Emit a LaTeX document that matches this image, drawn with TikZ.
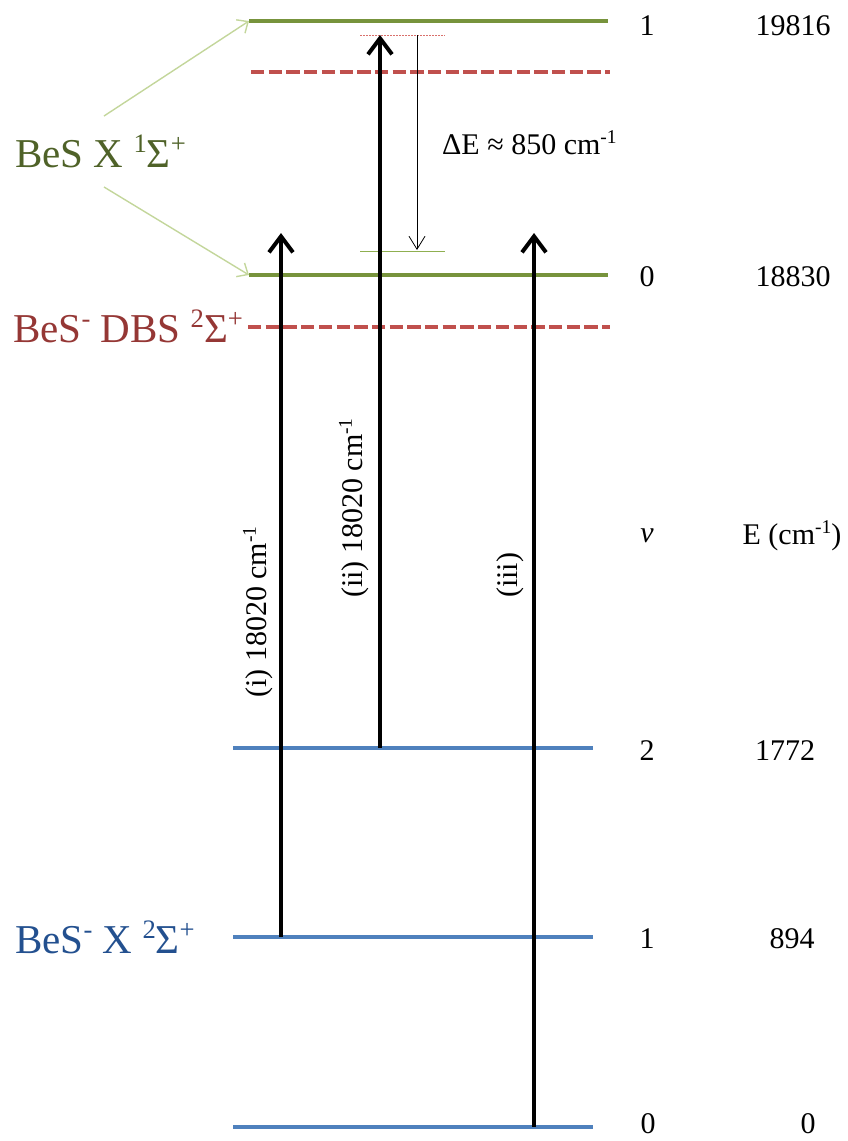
\documentclass[tikz,border=0pt]{standalone}
\usepackage{fontspec}
\setmainfont{Liberation Serif}
\usetikzlibrary{arrows.meta}
\definecolor{lvlgreen}{HTML}{77933C}
\definecolor{lvlred}{HTML}{C0504D}
\definecolor{lvlblue}{HTML}{4F81BD}
\definecolor{txtgreen}{HTML}{4F6228}
\definecolor{txtred}{HTML}{953735}
\definecolor{txtblue}{HTML}{23508F}
\definecolor{palegreen}{HTML}{C3D69B}
\definecolor{thingreen}{HTML}{8FAF50}
\definecolor{thinred}{HTML}{D9706C}
\newcommand\upsc[1]{\raisebox{0.36em}{\scalebox{0.65}{#1}}}
\begin{document}
\begin{tikzpicture}[x=1pt,y=-1pt,
  neutlvl/.style={lvlgreen, line width=4pt},
  dbslvl/.style={lvlred, line width=4pt, dash pattern=on 13.3pt off 4.4pt},
  anionlvl/.style={lvlblue, line width=4pt},
  trans/.style={line width=4pt, -{Straight Barb[length=16pt,width=24pt]}},
  pointer/.style={palegreen, line width=1.4pt, -{Straight Barb[length=9pt,width=16pt]}},
  biglabel/.style={font=\fontsize{41}{41}\selectfont, inner sep=0pt},
  smalllabel/.style={font=\fontsize{30}{30}\selectfont, inner sep=0pt}]
\useasboundingbox (0,0) rectangle (847,1141);

% --- energy levels ---
\coordinate (n1l) at (249,21);   \coordinate (n1r) at (608,21);
\coordinate (d1l) at (251,72);   \coordinate (d1r) at (610,72);
\coordinate (n0l) at (249,275);  \coordinate (n0r) at (608,275);
\coordinate (d0l) at (248,327);  \coordinate (d0r) at (610,327);
\coordinate (a2l) at (233,748);  \coordinate (a2r) at (593,748);
\coordinate (a1l) at (233,937);  \coordinate (a1r) at (593,937);
\coordinate (a0l) at (233,1127); \coordinate (a0r) at (593,1127);

\draw[neutlvl] (n1l) -- (n1r);
\draw[neutlvl] (n0l) -- (n0r);
\draw[dbslvl] (d1l) -- (d1r);
\draw[dbslvl] (d0l) -- (d0r);
\draw[anionlvl] (a2l) -- (a2r);
\draw[anionlvl] (a1l) -- (a1r);
\draw[anionlvl] (a0l) -- (a0r);

% --- photon energy marks and the vibrational spacing ---
\coordinate (pml) at (360,35);  \coordinate (pmr) at (445,35);
\coordinate (gml) at (360,251); \coordinate (gmr) at (445,251);
\draw[thinred, line width=1pt, dash pattern=on 2pt off 1pt] (pml) -- (pmr);
\draw[thingreen, line width=1pt] (gml) -- (gmr);
\coordinate (dEtop) at (417,35);
\coordinate (dEbot) at (417,250);
\draw[line width=0.8pt, -{Straight Barb[length=13pt,width=16pt]}] (dEtop) -- (dEbot);
\node[smalllabel, anchor=west] (dE) at (442,143) {ΔE ≈ 850 cm\upsc{-1}};

% --- detachment transitions ---
\coordinate (ti) at (281,937);  \coordinate (tip-i) at (281,233);
\coordinate (tii) at (380,748); \coordinate (tip-ii) at (380,35);
\coordinate (tiii) at (534,1127); \coordinate (tip-iii) at (534,233);
\draw[trans] (ti) -- (tip-i);
\draw[trans] (tii) -- (tip-ii);
\draw[trans] (tiii) -- (tip-iii);
\node[smalllabel, rotate=90, anchor=west] (li) at (258,698) {(i) 18020 cm\upsc{-1}};
\node[smalllabel, rotate=90, anchor=west] (lii) at (354,598) {(ii) 18020 cm\upsc{-1}};
\node[smalllabel, rotate=90, anchor=west] (liii) at (510,598) {(iii)};

% --- state labels ---
\node[biglabel, anchor=base west, text=txtgreen] (neut) at (15,167) {BeS X \upsc{1}Σ\upsc{+}};
\node[biglabel, anchor=base west, text=txtred] (dbs) at (13,342) {BeS\upsc{-} DBS \upsc{2}Σ\upsc{+}};
\node[biglabel, anchor=base west, text=txtblue] (anion) at (15,953) {BeS\upsc{-} X \upsc{2}Σ\upsc{+}};
\coordinate (pu) at (104,116); \coordinate (pd) at (104,187);
\draw[pointer] (pu) -- (n1l);
\draw[pointer] (pd) -- (n0l);

% --- quantum numbers and term energies ---
\node[smalllabel] (v1n) at (647,26) {1};
\node[smalllabel] (e1n) at (793,26) {19816};
\node[smalllabel] (v0n) at (647,277) {0};
\node[smalllabel] (e0n) at (793,277) {18830};
\node[smalllabel] (vh) at (647,536) {\textit{v}};
\node[smalllabel] (eh) at (792,536) {E (cm\upsc{-1})};
\node[smalllabel] (v2a) at (647,751) {2};
\node[smalllabel] (e2a) at (785,751) {1772};
\node[smalllabel] (v1a) at (647,939) {1};
\node[smalllabel] (e1a) at (792,939) {894};
\node[smalllabel] (v0a) at (648,1124) {0};
\node[smalllabel] (e0a) at (808,1124) {0};
\end{tikzpicture}
\end{document}
